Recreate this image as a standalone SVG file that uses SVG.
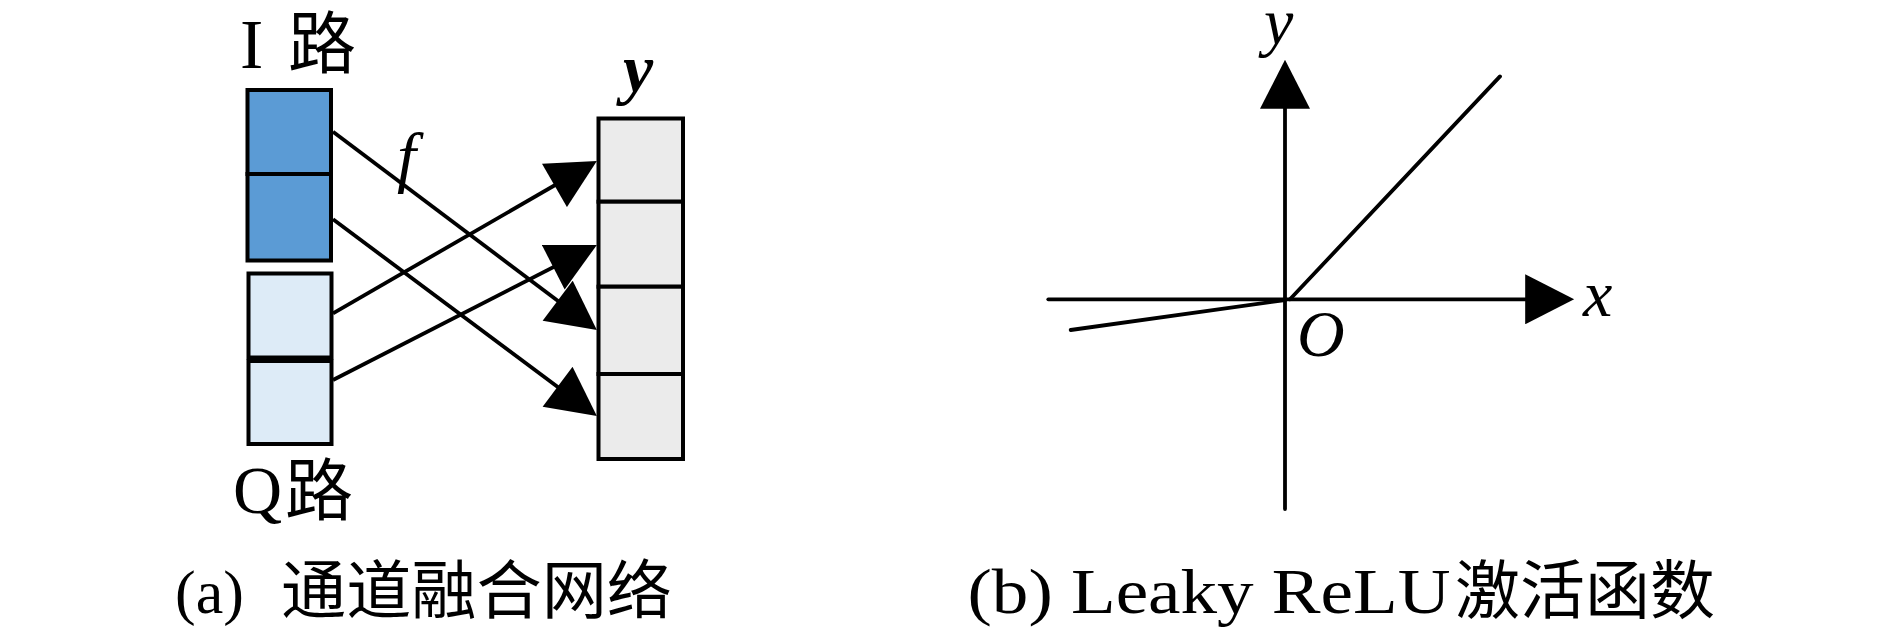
<svg xmlns="http://www.w3.org/2000/svg" width="1890" height="643" viewBox="0 0 1890 643">
<style>
.box{stroke:#000;stroke-width:4}
.i{fill:#5B9BD5}
.q{fill:#DDEBF7}
.g{fill:#EBEBEB}
.ln{stroke:#000;stroke-width:3.8;fill:none}
.rl{stroke:#000;stroke-width:3.8;fill:none;stroke-linecap:round}
.lat{font-family:"Liberation Serif",serif;fill:#000}
.cjk{font-family:"Noto Sans CJK SC",sans-serif;fill:#000}
.mi{font-family:"Liberation Serif",serif;font-style:italic;fill:#000}
</style>
<defs>
<marker id="ah" markerUnits="userSpaceOnUse" markerWidth="50" markerHeight="50" refX="40" refY="24.5" orient="auto" viewBox="0 0 48 49">
<path d="M0,0 L48,24.5 L0,49 Z" fill="#000"/>
</marker>
</defs>
<rect width="1890" height="643" fill="#fff"/>

<g id="I-path">
<rect class="box i" x="247.5" y="90" width="83.5" height="84"/>
<rect class="box i" x="247.5" y="174" width="83.5" height="86.5"/>
<text class="lat" x="240" y="68" font-size="70">I</text>
<text class="cjk" x="288" y="68" font-size="68">路</text>
</g>

<g id="Q-path">
<rect class="box q" x="248.5" y="273.5" width="83" height="84"/>
<rect class="box q" x="248.5" y="361" width="83" height="83"/>
<text class="lat" x="233" y="513" font-size="68">Q</text>
<text class="cjk" x="285" y="515" font-size="68">路</text>
</g>

<g id="y-vector">
<rect class="box g" x="598.5" y="118.5" width="84.5" height="83.2"/>
<rect class="box g" x="598.5" y="201.7" width="84.5" height="85"/>
<rect class="box g" x="598.5" y="286.7" width="84.5" height="87.3"/>
<rect class="box g" x="598.5" y="374" width="84.5" height="85"/>
<text class="lat" x="623" y="92" font-size="68" font-weight="bold" font-style="italic">y</text>
</g>

<g id="connectors">
<line class="ln" x1="333" y1="131.7" x2="590.3" y2="325.2" marker-end="url(#ah)"/>
<line class="ln" x1="333" y1="219.3" x2="590.3" y2="411.2" marker-end="url(#ah)"/>
<line class="ln" x1="333" y1="313.3" x2="589.8" y2="165" marker-end="url(#ah)"/>
<line class="ln" x1="333" y1="380" x2="589.6" y2="248.6" marker-end="url(#ah)"/>
<text class="mi" x="397" y="180" font-size="68">f</text>
</g>

<g id="caption-a">
<text class="lat" x="175" y="613" font-size="62">(a)</text>
<text class="cjk" x="281" y="613" font-size="64" textLength="391" lengthAdjust="spacingAndGlyphs">通道融合网络</text>
</g>

<g id="axes">
<line class="rl" x1="1285" y1="509" x2="1285" y2="68" marker-end="url(#ah)"/>
<line class="rl" x1="1048.3" y1="299.3" x2="1566" y2="299.3" marker-end="url(#ah)"/>
<text class="mi" x="1264" y="44" font-size="66">y</text>
<text class="mi" x="1583" y="316" font-size="66">x</text>
<text class="mi" x="1297" y="356" font-size="66">O</text>
</g>

<g id="leaky-relu">
<line class="rl" x1="1290" y1="299.3" x2="1500" y2="76.4"/>
<line class="rl" x1="1070.7" y1="330" x2="1285" y2="300"/>
</g>

<g id="caption-b">
<text class="lat" x="967.5" y="613" font-size="63" textLength="483" lengthAdjust="spacingAndGlyphs">(b) Leaky ReLU</text>
<text class="cjk" x="1455" y="613" font-size="64" textLength="260" lengthAdjust="spacingAndGlyphs">激活函数</text>
</g>
</svg>
